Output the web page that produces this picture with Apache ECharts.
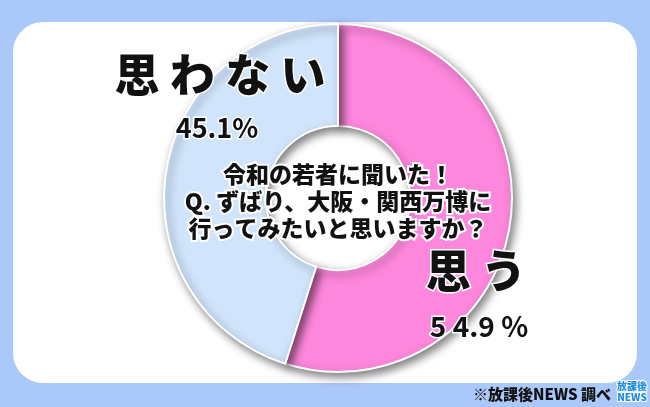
<!DOCTYPE html>
<html><head><meta charset="utf-8">
<script src="https://cdn.jsdelivr.net/npm/echarts@6/dist/echarts.min.js"></script>
<style>html,body{margin:0;padding:0;background:#abc8fa;}#c{width:650px;height:407px;}</style>
</head><body><div id="c"></div>
<script>
const categories = ['思う', '思わない'];
const values = [54.9, 45.1];
const colors = ['#fd87dc', '#d0e4fb'];
const titleLines = ['令和の若者に聞いた！', 'Q. ずばり、大阪・関西万博に', '行ってみたいと思いますか？'];
const sourceText = '※放課後NEWS 調べ';

const chart = echarts.init(document.getElementById('c'));
const F = '"Noto Sans CJK JP", "Noto Sans", sans-serif';
const bigStyle = {fill:'#111', font:'900 45px ' + F, stroke:'#fff', lineWidth:3, textAlign:'center', textVerticalAlign:'middle'};
const pctStyle = {fill:'#111', font:'700 27px ' + F, stroke:'#fff', lineWidth:3, textAlign:'center', textVerticalAlign:'middle'};
chart.setOption({
  backgroundColor:'#abc8fa',
  animation:false,
  graphic:[
    {type:'rect', z:-10, shape:{x:13, y:22, width:624, height:361, r:30}, style:{fill:'#fff'}},
    {type:'text', z:100, x:220, y:75, style:Object.assign({}, bigStyle, {text: categories[1].split('').join(' ')})},
    {type:'text', z:100, x:217, y:128, style:Object.assign({}, pctStyle, {text: values[1].toFixed(1) + '%'})},
    {type:'text', z:100, x:476, y:271, style:Object.assign({}, bigStyle, {text: categories[0].split('').join(' ')})},
    {type:'text', z:100, x:479, y:326, style:Object.assign({}, pctStyle, {font:'700 28px ' + F, text: values[0].toFixed(1).split('').join(' ').replace(' . ', '.') + ' %'})},
    {type:'text', z:100, x:338, y:201, style:{text: titleLines.join('\n'), fill:'#111', font:'900 23px ' + F, lineHeight:27, stroke:'#fff', lineWidth:4, textAlign:'center', textVerticalAlign:'middle'}},
    {type:'text', z:100, x:611, y:394, style:{text: sourceText, fill:'#111', font:'900 15px ' + F, textAlign:'right', textVerticalAlign:'middle'}},
    {type:'text', z:100, x:632, y:392, style:{text:'放課後\nNEWS', fill:'#1f8de0', font:'900 10px ' + F, lineHeight:11, stroke:'#fff', lineWidth:2, textAlign:'center', textVerticalAlign:'middle'}}
  ],
  series:[{
    type:'pie',
    center:[338, 198],
    radius:[72, 174],
    startAngle:90,
    clockwise:true,
    label:{show:false},
    labelLine:{show:false},
    silent:true,
    itemStyle:{borderColor:'#fff', borderWidth:2, shadowBlur:8, shadowOffsetX:3, shadowOffsetY:4, shadowColor:'rgba(0,0,0,0.5)'},
    data: categories.map((c,i)=>({name:c, value:values[i], itemStyle:{color:colors[i]}}))
  }]
});
</script></body></html>
